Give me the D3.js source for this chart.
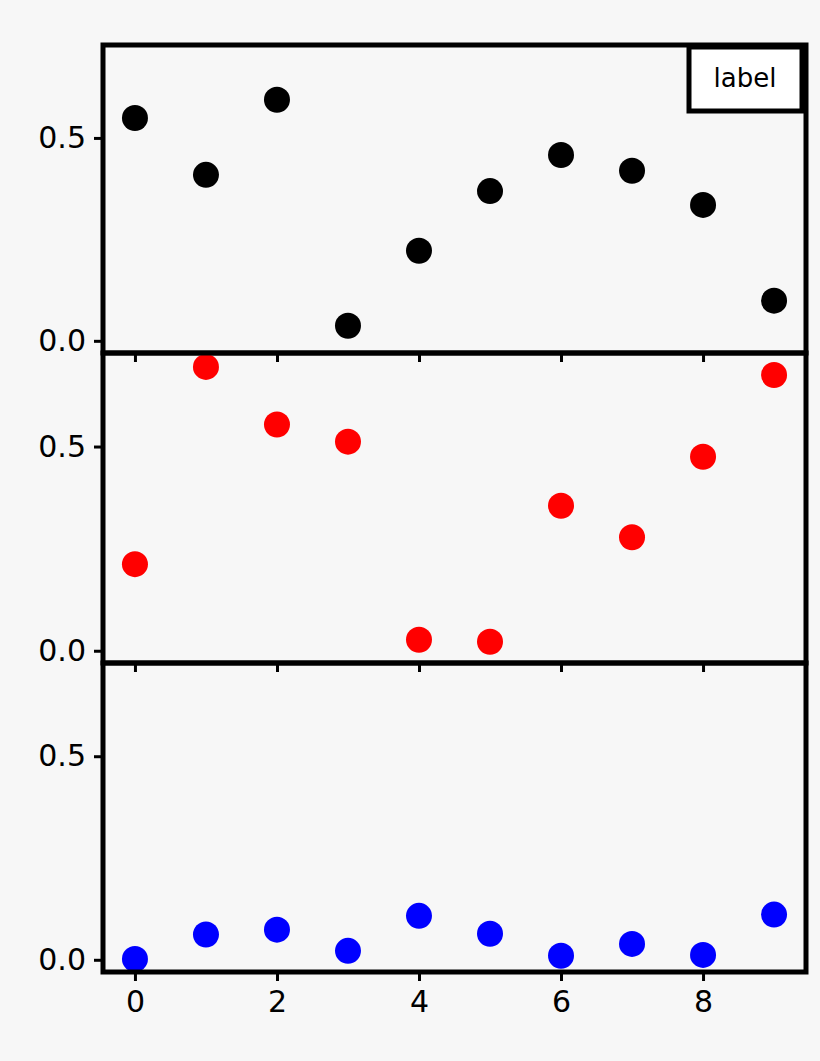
<!DOCTYPE html>
<html><head><meta charset="utf-8">
<script src="https://cdn.jsdelivr.net/npm/d3@7"></script>
<style>body{margin:0;background:#f7f7f7}</style></head>
<body><svg id="c" width="820" height="1061"></svg>
<script>
const xs = [0,1,2,3,4,5,6,7,8,9];
const series1 = [0.549,0.409,0.594,0.037,0.222,0.369,0.458,0.419,0.335,0.099];
const series2 = [0.212,0.695,0.554,0.512,0.027,0.022,0.355,0.278,0.475,0.675];
const series3 = [0.002,0.062,0.074,0.022,0.108,0.064,0.010,0.039,0.012,0.111];
const colors = ["#000000","#ff0000","#0000ff"];
const xTicks = [0,2,4,6,8];
const yTicks = [0.0,0.5];
const legendLabel = "label";

const svg = d3.select("#c");
svg.append("rect").attr("width",820).attr("height",1061).attr("fill","#f7f7f7");
const L=103,R=806;
const x = d3.scaleLinear().domain([-0.45,9.45]).range([L,R]);
const panels = [[45,353],[353,663],[663,972]];
const data=[series1,series2,series3];
panels.forEach(([t,b],i)=>{
  const y = d3.scaleLinear().domain([-0.03,0.729]).range([b,t]);
  const g=svg.append("g");
  g.selectAll("circle").data(data[i]).join("circle")
    .attr("cx",(d,j)=>x(xs[j])).attr("cy",d=>y(d)).attr("r",13).attr("fill",colors[i]);
  const ya=g.append("g").attr("transform",`translate(${L},0)`)
    .call(d3.axisLeft(y).tickValues(yTicks).tickFormat(d3.format(".1f")).tickSize(9).tickPadding(8));
  const xa=g.append("g").attr("transform",`translate(0,${b})`)
    .call(d3.axisBottom(x).tickValues(xTicks).tickSize(9).tickPadding(10).tickFormat(i==2?d3.format("d"):""));
  [ya,xa].forEach(a=>{a.select(".domain").remove();
    a.selectAll("line").attr("stroke","#000").attr("stroke-width",3);
    a.selectAll("text").attr("font-family","DejaVu Sans").attr("font-size",30).attr("fill","#000");});
  g.append("rect").attr("x",L).attr("y",t).attr("width",R-L).attr("height",b-t)
    .attr("fill","none").attr("stroke","#000").attr("stroke-width",5);
});
svg.append("rect").attr("x",689).attr("y",47).attr("width",113).attr("height",64)
  .attr("fill","#fff").attr("stroke","#000").attr("stroke-width",5);
svg.append("text").attr("x",745).attr("y",87).attr("text-anchor","middle")
  .attr("font-family","DejaVu Sans").attr("font-size",26).text(legendLabel);
</script></body></html>
